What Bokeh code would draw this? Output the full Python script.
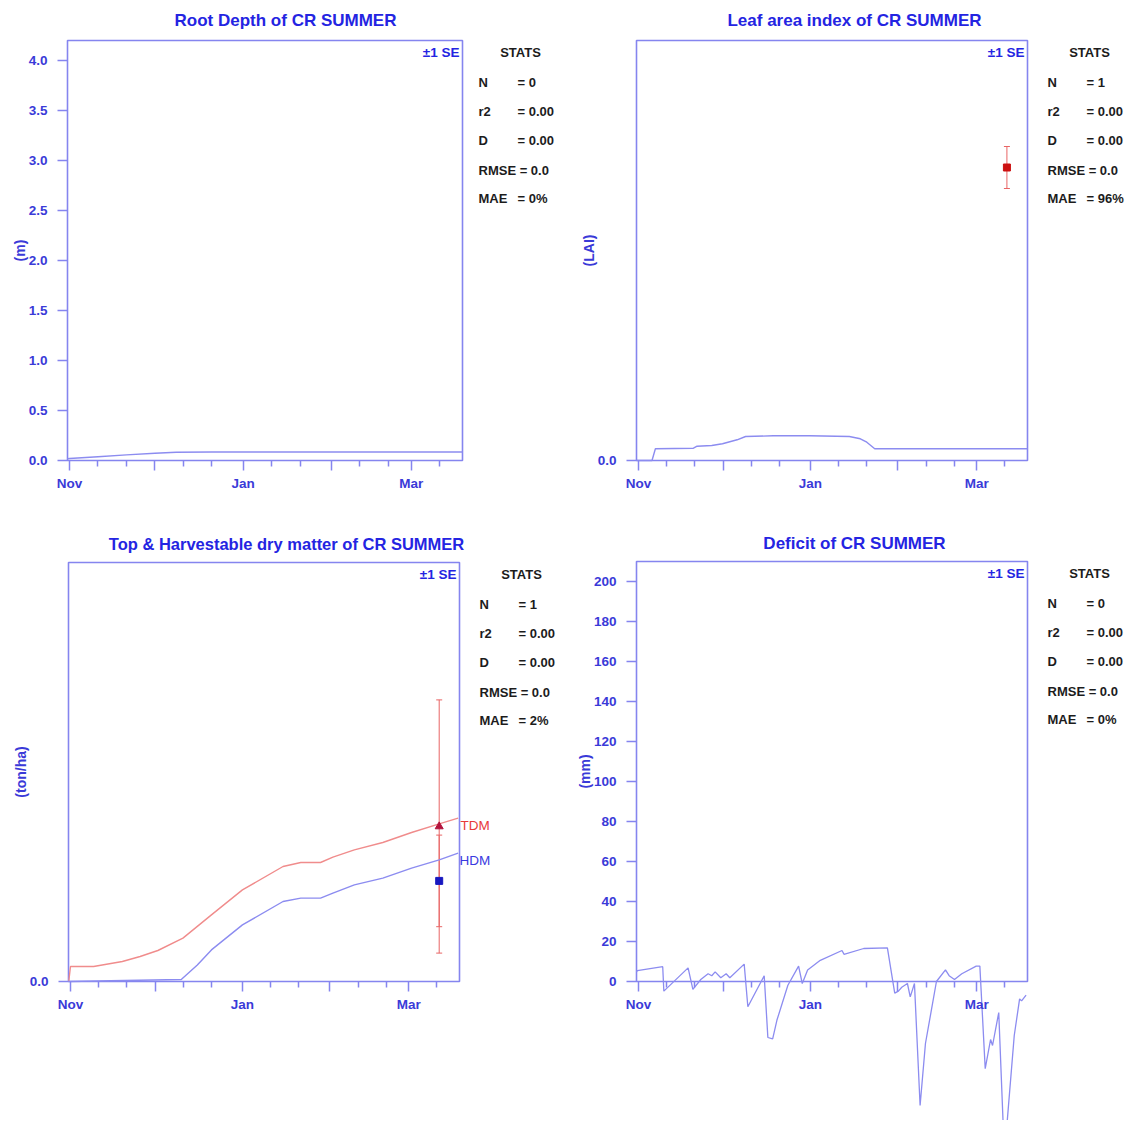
import math
from bokeh.plotting import figure
from bokeh.models import (Label, FixedTicker, Range1d, LinearAxis, Whisker,
                          ColumnDataSource, TeeHead, PrintfTickFormatter)
from bokeh.layouts import column, row
from bokeh.embed import file_html
from bokeh.resources import INLINE

# ---------------- data (x = days after 1 November) ----------------
month_ticks = [0, 30, 61, 92, 120]
month_labels = {0: "Nov", 30: "", 61: "Jan", 92: "", 120: "Mar"}
minor_ticks = [10, 20, 40, 50, 71, 81, 102, 112, 130]
x_start, x_end = -0.7, 138.0

root_day = [-0.7, 0, 10, 20, 30, 37.5, 50, 138]
root_depth = [0.017, 0.02, 0.038, 0.056, 0.072, 0.083, 0.085, 0.085]
root_yticks = [0, 0.5, 1.0, 1.5, 2.0, 2.5, 3.0, 3.5, 4.0]

lai_day = [-0.7, 4.8, 6, 19.5, 20.8, 26, 29.8, 35, 38, 47.8, 60.7, 74.8, 78.7, 81, 83.8, 138]
lai_sim = [0, 0, 0.117, 0.123, 0.143, 0.15, 0.167, 0.207, 0.24, 0.247, 0.247, 0.24,
           0.217, 0.183, 0.117, 0.117]
lai_obs_day = [130.7]
lai_obs = [2.93]
lai_obs_se = [0.21]
lai_yticks = [0]

tdm_day = [-0.6, 0, 8.2, 18.4, 24.7, 31, 39.9, 50, 61, 75.4, 81.7, 88.7, 93.1, 100.7,
           110.8, 121, 130.8, 137.5]
tdm_sim = [0, 0.75, 0.75, 1.0, 1.25, 1.55, 2.17, 3.33, 4.58, 5.75, 5.95, 5.95, 6.22,
           6.58, 6.95, 7.45, 7.88, 8.17]
hdm_day = [-0.7, 39.3, 45, 50, 61, 75.4, 81.7, 88.7, 93.1, 100.7, 110.8, 121, 130.8, 137.5]
hdm_sim = [0, 0.1, 0.83, 1.58, 2.83, 4.0, 4.17, 4.17, 4.42, 4.83, 5.17, 5.67, 6.08, 6.42]
dm_obs_day = [130.8]
tdm_obs = [7.75]
tdm_obs_se = [6.33]
hdm_obs = [5.03]
hdm_obs_se = [2.29]
dm_yticks = [0]

def_day = [-0.7, -0.4, 8.6, 9, 17.6, 19.3, 22.1, 24.7, 26, 27.2, 29.2, 31.1, 32.4, 37.5,
           38.8, 44.6, 45.9, 47.6, 49.1, 53, 56.8, 58.1, 60, 64.5, 72.2, 72.9, 79.9,
           88.3, 90.9, 92.2, 93.4, 95.4, 96.4, 97.9, 99.9, 101.8, 105.7, 108.9, 110.2,
           112.1, 114.7, 119.8, 121.1, 123, 124.9, 125.6, 127.8, 129.4, 130.7, 133.3,
           135.2, 135.9, 137.5]
deficit = [4.8, 5.4, 7.4, -4.8, 6.8, -3.9, 1.0, 3.9, 2.9, 4.8, 1.9, 3.9, 1.9, 8.7,
           -12.6, 2.9, -28.0, -28.7, -19.4, -1.9, 7.7, -1.0, 5.8, 10.6, 15.5, 13.6, 16.5,
           16.8, -5.8, -4.8, -2.9, -1.0, -7.7, -1.0, -62.0, -31.0, 0.0, 5.8, 2.9,
           1.0, 3.9, 7.7, 7.7, -43.6, -29.0, -32.0, -15.5, -72.6, -71.6, -27.0,
           -8.7, -9.7, -6.8]
def_yticks = [0, 20, 40, 60, 80, 100, 120, 140, 160, 180, 200]

stats_names = ["N", "r2", "D", "RMSE = 0.0", "MAE"]
stats_root = ["= 0", "= 0.00", "= 0.00", "", "= 0%"]
stats_lai = ["= 1", "= 0.00", "= 0.00", "", "= 96%"]
stats_dm = ["= 1", "= 0.00", "= 0.00", "", "= 2%"]
stats_def = ["= 0", "= 0.00", "= 0.00", "", "= 0%"]

# ---------------- style ----------------
FONT = "'Liberation Sans Narrow', 'Liberation Sans', sans-serif"
AX_C = "#8585ef"
LBL_C = "#3a3ad8"
TITLE_C = "#2424e2"
SIM_B = "#8c8cf0"
SIM_R = "#f08c8c"
ERR_C = "#e86565"
STAT_C = "#1c1c1c"


def panel(X0, X1, Y0, Y1, L, R, T, Z, k, yticks, yfmt):
    """Figure covering page box [X0,X1)x[Y0,Y1); plot box L..R, T..Z (page px)."""
    sx = (R - L) / (x_end - x_start)
    xr = Range1d(x_start - (L - X0) / sx, x_end + (X1 - R) / sx)
    yr = Range1d(-(Y1 - Z) / k, (Z - Y0) / k)
    p = figure(width=X1 - X0, height=Y1 - Y0, min_border=0, min_border_left=0,
               min_border_right=0, min_border_top=0, min_border_bottom=0,
               x_range=xr, y_range=yr, x_axis_type=None, y_axis_type=None,
               output_backend="svg", toolbar_location=None)
    p.background_fill_color = "white"
    p.border_fill_color = "white"
    p.outline_line_color = None
    box_top = (Z - T) / k
    p.quad(left=[x_start], right=[x_end], bottom=[0], top=[box_top],
           fill_color=None, line_color=AX_C, line_width=1.6)
    xa = LinearAxis(ticker=FixedTicker(ticks=month_ticks, minor_ticks=minor_ticks),
                    major_label_overrides=month_labels, fixed_location=0)
    ya = LinearAxis(ticker=FixedTicker(ticks=yticks),
                    formatter=PrintfTickFormatter(format=yfmt),
                    fixed_location=x_start)
    for a in (xa, ya):
        a.axis_line_color = None
        a.major_tick_line_color = AX_C
        a.major_tick_line_width = 1.5
        a.minor_tick_line_color = AX_C
        a.minor_tick_line_width = 1.5
        a.major_tick_in = 0
        a.major_tick_out = 10
        a.minor_tick_in = 0
        a.minor_tick_out = 6
        a.major_label_text_font = FONT
        a.major_label_text_font_size = "13.5px"
        a.major_label_text_font_style = "bold"
        a.major_label_text_color = LBL_C
    xa.major_label_standoff = 5
    ya.major_label_standoff = 10
    p.add_layout(xa, "below")
    p.add_layout(ya, "left")
    p._box = (X0, Y1)
    return p


def txt(p, px, py, s, size, color, bold=True, align="left", baseline="middle",
        angle=0.0):
    X0, Y1 = p._box
    p.add_layout(Label(x=px - X0, y=Y1 - py, x_units="screen", y_units="screen",
                       text=s, text_font=FONT, text_font_size=f"{size}px",
                       text_font_style="bold" if bold else "normal",
                       text_color=color, text_align=align, text_baseline=baseline,
                       angle=angle))


def decorate(p, title, ylabel, stats, L, R, T, Z, title_y, title_size=17, ylab_dx=48):
    txt(p, L + 218, title_y, title, title_size, TITLE_C, align="center")
    txt(p, R - 3, T + 12, "\u00b11 SE", 13.5, TITLE_C, align="right")
    txt(p, L + 453, T + 12, "STATS", 13, STAT_C, align="center")
    offs = [42, 71, 100, 130, 158]
    for name, val, d in zip(stats_names, stats, offs):
        txt(p, L + 411, T + d, name, 13, STAT_C)
        if val:
            txt(p, L + 450, T + d, val, 13, STAT_C)
    txt(p, L - ylab_dx, (T + Z) / 2, ylabel, 14, LBL_C, angle=math.pi / 2,
        align="center")


# ---- panel 1: root depth ----
p1 = panel(0, 565, 0, 522, 67, 462, 40, 460, 100, root_yticks, "%.1f")
p1.line(root_day, root_depth, line_color=SIM_B, line_width=1.4)
decorate(p1, "Root Depth of CR SUMMER", "(m)", stats_root, 67, 462, 40, 460, 20)

# ---- panel 2: LAI ----
p2 = panel(565, 1126, 0, 522, 636, 1027, 40, 460, 100, lai_yticks, "%.1f")
p2.line(lai_day, lai_sim, line_color=SIM_B, line_width=1.4)
lai_src = ColumnDataSource(dict(x=lai_obs_day, y=lai_obs,
                                lo=[v - s for v, s in zip(lai_obs, lai_obs_se)],
                                hi=[v + s for v, s in zip(lai_obs, lai_obs_se)]))
p2.add_layout(Whisker(base="x", lower="lo", upper="hi", source=lai_src,
                      dimension="height", line_color=ERR_C, line_width=1,
                      lower_head=TeeHead(size=6, line_color=ERR_C, line_width=1),
                      upper_head=TeeHead(size=6, line_color=ERR_C, line_width=1)))
p2.scatter("x", "y", source=lai_src, marker="square", size=7,
           fill_color="#cc1010", line_color="#cc1010")
decorate(p2, "Leaf area index of CR SUMMER", "(LAI)", stats_lai, 636, 1027, 40, 460, 20)

# ---- panel 3: dry matter ----
p3 = panel(0, 565, 522, 1120, 68, 459, 562, 981, 20, dm_yticks, "%.1f")
p3.line(tdm_day, tdm_sim, line_color=SIM_R, line_width=1.4)
p3.line(hdm_day, hdm_sim, line_color=SIM_B, line_width=1.4)
dm_src = ColumnDataSource(dict(
    x=dm_obs_day * 2, y=tdm_obs + hdm_obs,
    lo=[v - s for v, s in zip(tdm_obs + hdm_obs, tdm_obs_se + hdm_obs_se)],
    hi=[v + s for v, s in zip(tdm_obs + hdm_obs, tdm_obs_se + hdm_obs_se)]))
p3.add_layout(Whisker(base="x", lower="lo", upper="hi", source=dm_src,
                      dimension="height", line_color=ERR_C, line_width=1,
                      lower_head=TeeHead(size=6, line_color=ERR_C, line_width=1),
                      upper_head=TeeHead(size=6, line_color=ERR_C, line_width=1)))
p3.scatter(dm_obs_day, tdm_obs, marker="triangle", size=8,
           fill_color="#b3123c", line_color="#b3123c")
p3.scatter(dm_obs_day, hdm_obs, marker="square", size=7,
           fill_color="#1818c0", line_color="#1818c0")
p3.add_layout(Label(x=x_end, y=tdm_sim[-1], text="TDM", text_font=FONT,
                    text_font_size="13.5px", text_color="#e83a3a", text_baseline="top",
                    x_offset=1))
p3.add_layout(Label(x=x_end, y=hdm_sim[-1], text="HDM", text_font=FONT,
                    text_font_size="13.5px", text_color="#3a3ae0", text_baseline="top",
                    x_offset=0))
decorate(p3, "Top & Harvestable dry matter of CR SUMMER", "(ton/ha)", stats_dm,
         68, 459, 562, 981, 543, 16.5)

# ---- panel 4: deficit ----
p4 = panel(565, 1126, 522, 1120, 636, 1027, 561, 981, 2, def_yticks, "%d")
p4.line(def_day, deficit, line_color=SIM_B, line_width=1.3)
decorate(p4, "Deficit of CR SUMMER", "(mm)", stats_def, 636, 1027, 561, 981, 543,
         ylab_dx=52)

layout = column(row(p1, p2), row(p3, p4))
open("out.html", "w").write(file_html(layout, INLINE))
